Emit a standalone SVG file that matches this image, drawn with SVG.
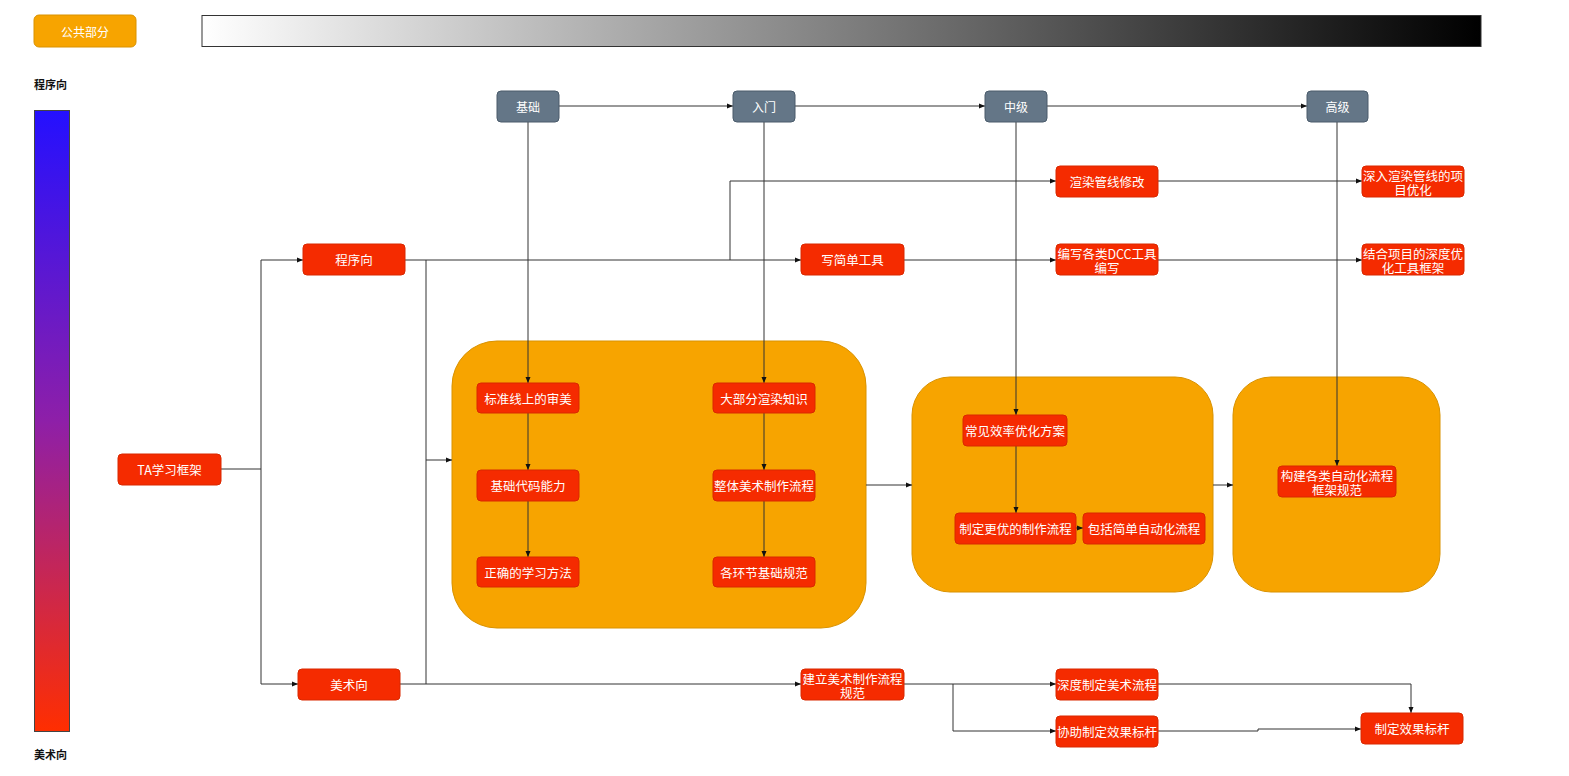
<svg xmlns="http://www.w3.org/2000/svg" width="1569" height="776" viewBox="0 0 1569 776">
<defs>
<linearGradient id="hbar" x1="0" y1="0" x2="1" y2="0"><stop offset="0" stop-color="#ffffff"/><stop offset="1" stop-color="#000000"/></linearGradient>
<linearGradient id="vbar" x1="0" y1="0" x2="0" y2="1"><stop offset="0" stop-color="#2410FF"/><stop offset="0.5" stop-color="#8E1FA8"/><stop offset="1" stop-color="#FF2E00"/></linearGradient>
<marker id="ah" markerWidth="8" markerHeight="8" refX="7" refY="4" orient="auto" markerUnits="userSpaceOnUse"><path d="M1,1.5 L7,4 L1,6.5 Z" fill="#111"/></marker>
<style>
.red{fill:#F52B00;stroke:#D92800;stroke-width:1}
.gray{fill:#647687;stroke:#4A5B6B;stroke-width:1}
.org{fill:#F7A400;stroke:#D99200;stroke-width:1}
.t{font-family:"Noto Sans CJK SC","Liberation Sans",sans-serif;font-size:12.5px;fill:#ffffff;text-anchor:middle;dominant-baseline:central}
.ts{font-family:"Noto Sans CJK SC","Liberation Sans",sans-serif;font-size:12px;fill:#ffffff;text-anchor:middle;dominant-baseline:central}
.lbl{font-family:"Noto Sans CJK SC","Liberation Sans",sans-serif;font-size:11px;font-weight:bold;fill:#111}
.c{fill:none;stroke:#333;stroke-width:1}
.ca{fill:none;stroke:#333;stroke-width:1;marker-end:url(#ah)}
</style>
</defs>
<rect width="1569" height="776" fill="#ffffff"/>
<g id="legend">
<rect x="34" y="15" width="102" height="32" rx="5" class="org"/>
<text x="85" y="31" class="ts">公共部分</text>
<rect x="202" y="15.5" width="1279" height="31" fill="url(#hbar)" stroke="#333" stroke-width="1"/>
<text x="34" y="89" class="lbl">程序向</text>
<rect x="34.5" y="110.5" width="35" height="621" fill="url(#vbar)" stroke="#444" stroke-width="1"/>
<text x="34" y="759" class="lbl">美术向</text>
</g>
<g id="groups">
<rect id="grp-basic" x="452" y="341" width="414" height="287" rx="45" class="org"/>
<rect id="grp-mid" x="912" y="377" width="301" height="215" rx="38" class="org"/>
<rect id="grp-high" x="1233" y="377" width="207" height="215" rx="38" class="org"/>
</g>
<g id="connectors">
<path class="ca" d="M559,106 H733"/>
<path class="ca" d="M795,106 H985"/>
<path class="ca" d="M1047,106 H1307"/>
<path class="ca" d="M528,122 V383"/>
<path class="ca" d="M764,122 V383"/>
<path class="ca" d="M1016,122 V415"/>
<path class="ca" d="M1337,122 V466"/>
<path class="c" d="M221,469 H261"/>
<path class="ca" d="M261,469 V260 H303"/>
<path class="ca" d="M261,469 V684 H298"/>
<path class="ca" d="M405,260 H801"/>
<path class="ca" d="M730,260 V181 H1056"/>
<path class="ca" d="M426,260 V460 H452"/>
<path class="c" d="M426,460 V684"/>
<path class="ca" d="M400,684 H801"/>
<path class="ca" d="M904,260 H1056"/>
<path class="ca" d="M1158,181 H1362"/>
<path class="ca" d="M1158,260 H1362"/>
<path class="ca" d="M528,413 V470"/>
<path class="ca" d="M528,501 V557"/>
<path class="ca" d="M764,413 V470"/>
<path class="ca" d="M764,501 V557"/>
<path class="ca" d="M866,485 H912"/>
<path class="ca" d="M1213,485 H1233"/>
<path class="ca" d="M1016,446 V513"/>
<path class="ca" d="M1076,528 H1083"/>
<path class="ca" d="M904,684 H1056"/>
<path class="ca" d="M953,684 V731 H1056"/>
<path class="ca" d="M1158,684 H1411 V713"/>
<path class="ca" d="M1158,731 H1258 V729 H1361"/>
</g>
<g id="n-jichu"><rect x="497" y="91" width="62" height="31" rx="4" class="gray"/><text x="528" y="106.5" class="ts">基础</text></g>
<g id="n-rumen"><rect x="733" y="91" width="62" height="31" rx="4" class="gray"/><text x="764" y="106.5" class="ts">入门</text></g>
<g id="n-zhongji"><rect x="985" y="91" width="62" height="31" rx="4" class="gray"/><text x="1016" y="106.5" class="ts">中级</text></g>
<g id="n-gaoji"><rect x="1307" y="91" width="61" height="31" rx="4" class="gray"/><text x="1337.5" y="106.5" class="ts">高级</text></g>
<g id="n-ta"><rect x="118" y="454" width="103" height="31" rx="4" class="red"/><text x="169.5" y="469.5" class="t">TA学习框架</text></g>
<g id="n-cxx"><rect x="303" y="244" width="102" height="31" rx="4" class="red"/><text x="354" y="259.5" class="t">程序向</text></g>
<g id="n-msx"><rect x="298" y="669" width="102" height="31" rx="4" class="red"/><text x="349" y="684.5" class="t">美术向</text></g>
<g id="n-xjdgj"><rect x="801" y="244" width="103" height="31" rx="4" class="red"/><text x="852.5" y="259.5" class="t">写简单工具</text></g>
<g id="n-xrgx"><rect x="1056" y="166" width="102" height="31" rx="4" class="red"/><text x="1107" y="181.5" class="t">渲染管线修改</text></g>
<g id="n-dcc"><rect x="1056" y="244" width="102" height="31" rx="4" class="red"/><text class="t"><tspan x="1107" y="253">编写各类DCC工具</tspan><tspan x="1107" y="266.5">编写</tspan></text></g>
<g id="n-srxr"><rect x="1362" y="166" width="102" height="31" rx="4" class="red"/><text class="t"><tspan x="1413" y="175">深入渲染管线的项</tspan><tspan x="1413" y="188.5">目优化</tspan></text></g>
<g id="n-jhxm"><rect x="1362" y="244" width="102" height="31" rx="4" class="red"/><text class="t"><tspan x="1413" y="253">结合项目的深度优</tspan><tspan x="1413" y="266.5">化工具框架</tspan></text></g>
<g id="n-bzxs"><rect x="477" y="383" width="102" height="30" rx="4" class="red"/><text x="528" y="398" class="t">标准线上的审美</text></g>
<g id="n-jcdm"><rect x="477" y="470" width="102" height="31" rx="4" class="red"/><text x="528" y="485.5" class="t">基础代码能力</text></g>
<g id="n-zqxx"><rect x="477" y="557" width="102" height="30" rx="4" class="red"/><text x="528" y="572" class="t">正确的学习方法</text></g>
<g id="n-dbfxr"><rect x="713" y="383" width="102" height="30" rx="4" class="red"/><text x="764" y="398" class="t">大部分渲染知识</text></g>
<g id="n-ztms"><rect x="713" y="470" width="102" height="31" rx="4" class="red"/><text x="764" y="485.5" class="t">整体美术制作流程</text></g>
<g id="n-ghjgf"><rect x="713" y="557" width="102" height="30" rx="4" class="red"/><text x="764" y="572" class="t">各环节基础规范</text></g>
<g id="n-cjxl"><rect x="963" y="415" width="104" height="31" rx="4" class="red"/><text x="1015" y="430.5" class="t">常见效率优化方案</text></g>
<g id="n-zdgy"><rect x="955" y="513" width="121" height="31" rx="4" class="red"/><text x="1015.5" y="528.5" class="t">制定更优的制作流程</text></g>
<g id="n-bkjd"><rect x="1083" y="513" width="122" height="31" rx="4" class="red"/><text x="1144" y="528.5" class="t">包括简单自动化流程</text></g>
<g id="n-gjgl"><rect x="1278" y="466" width="118" height="31" rx="4" class="red"/><text class="t"><tspan x="1337" y="475">构建各类自动化流程</tspan><tspan x="1337" y="488.5">框架规范</tspan></text></g>
<g id="n-jlms"><rect x="801" y="669" width="103" height="31" rx="4" class="red"/><text class="t"><tspan x="852.5" y="678">建立美术制作流程</tspan><tspan x="852.5" y="691.5">规范</tspan></text></g>
<g id="n-sdzd"><rect x="1056" y="669" width="102" height="31" rx="4" class="red"/><text x="1107" y="684.5" class="t">深度制定美术流程</text></g>
<g id="n-xzzd"><rect x="1056" y="716" width="102" height="31" rx="4" class="red"/><text x="1107" y="731.5" class="t">协助制定效果标杆</text></g>
<g id="n-zdxg"><rect x="1361" y="713" width="102" height="31" rx="4" class="red"/><text x="1412" y="728.5" class="t">制定效果标杆</text></g>
</svg>
